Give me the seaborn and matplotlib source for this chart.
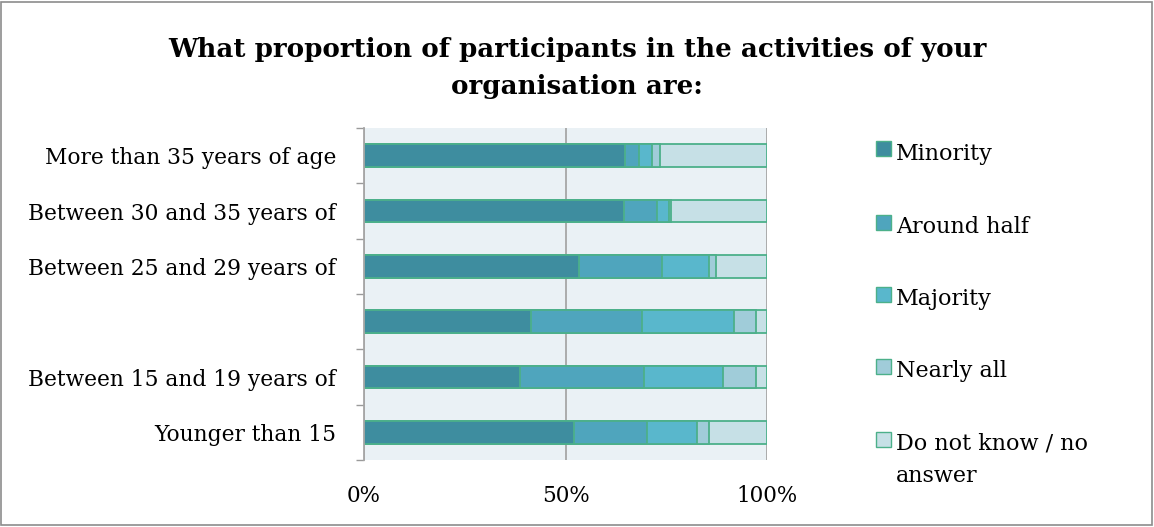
import matplotlib
matplotlib.use("Agg")
import matplotlib.pyplot as plt
from matplotlib.patches import Rectangle
import numpy as np
import pandas as pd
import seaborn as sns

# Age groups, top to bottom (the fourth group carries no label on the axis)
groups = ["More than 35 years of age", "Between 30 and 35 years of",
          "Between 25 and 29 years of", "Between 20 and 24 years of",
          "Between 15 and 19 years of", "Younger than 15"]
tick_labels = ["More than 35 years of age", "Between 30 and 35 years of",
               "Between 25 and 29 years of", "",
               "Between 15 and 19 years of", "Younger than 15"]

# Share of respondents per answer (percent)
minority = [64.8, 64.4, 53.3, 41.4, 38.8, 52.0]
around_half = [3.4, 8.2, 20.7, 27.6, 30.8, 18.2]
majority = [3.2, 3.0, 11.5, 22.7, 19.4, 12.4]
nearly_all = [2.0, 0.7, 1.9, 5.5, 8.3, 2.9]
no_answer = [26.6, 23.7, 12.6, 2.8, 2.7, 14.5]

series = ["Minority", "Around half", "Majority", "Nearly all", "Do not know / no\nanswer"]
colors = ["#3e8d9f", "#4fa5bd", "#59b7cc", "#a0ccd9", "#c6e0e6"]
edge = "#4cb08a"

df = pd.DataFrame({"group": groups, "Minority": minority, "Around half": around_half,
                   "Majority": majority, "Nearly all": nearly_all,
                   "No answer": no_answer})
cols = ["Minority", "Around half", "Majority", "Nearly all", "No answer"]
totals = df[cols].sum(axis=1)
for c in cols:
    df[c] = df[c] / totals * 100
cum = df[cols].cumsum(axis=1)

sns.set_theme(style="white")
plt.rcParams["font.family"] = ["DejaVu Serif"]
plt.rcParams["text.color"] = "black"
plt.rcParams["xtick.color"] = "black"
plt.rcParams["ytick.color"] = "black"

W, H = 1154, 527
fig = plt.figure(figsize=(W / 100, H / 100), dpi=100)
ax = fig.add_axes([364 / W, 1 - 460 / H, 403 / W, 332 / H])
ax.set_facecolor("#eaf1f5")

# Stacked bars: draw cumulative totals from the widest down
for i in range(len(cols) - 1, -1, -1):
    plot_df = pd.DataFrame({"group": groups, "value": cum[cols[i]].values})
    sns.barplot(data=plot_df, x="value", y="group", order=groups, orient="h",
                color=colors[i], edgecolor=edge, linewidth=1.3, width=0.41,
                saturation=1, ax=ax)

ax.set_xlim(0, 100)
ax.set_ylim(5.5, -0.5)
ax.set_xticks([0, 50, 100])
ax.set_xticklabels(["0%", "50%", "100%"], fontsize=15.5)
ax.set_yticks(range(len(groups)))
ax.set_yticklabels(tick_labels, fontsize=15.7)
ax.set_xlabel("")
ax.set_ylabel("")
ax.tick_params(axis="y", which="major", left=False, length=0, pad=20)
ax.tick_params(axis="x", length=0, pad=18)
ax.set_yticks(np.arange(-0.5, len(groups), 1.0), minor=True)
ax.tick_params(axis="y", which="minor", left=True, length=6, width=1,
               color="#9a9a9a", direction="out")
ax.grid(axis="x", color="#a6a6a6", linewidth=1.3, zorder=0)
ax.set_axisbelow(True)
for s in ["top", "right", "bottom"]:
    ax.spines[s].set_visible(False)
ax.spines["left"].set_color("#a6a6a6")
ax.spines["left"].set_linewidth(1.3)

fig.suptitle("What proportion of participants in the activities of your\norganisation are:",
             x=0.5, y=0.93, fontsize=18.8, fontweight="bold", linespacing=1.6)

# Legend: square swatches with labels stacked down the right side
sq = 15
key_centres = [149, 222, 294.5, 366.5, 439]
for lab, col, yc in zip(series, colors, key_centres):
    fig.patches.append(Rectangle((876 / W, 1 - (yc + sq / 2) / H), sq / W, sq / H,
                                 transform=fig.transFigure, facecolor=col,
                                 edgecolor=edge, linewidth=1.0))
    # first line sits beside the swatch; extra lines run below it
    extra = lab.count("\n")
    fig.text(896 / W, 1 - (yc + 11 + 32 * extra) / H, lab, fontsize=16,
             va="baseline", ha="left", linespacing=1.6)

fig.patches.append(Rectangle((0.001, 0.004), 0.997, 0.992, transform=fig.transFigure,
                             fill=False, edgecolor="#8c8c8c", linewidth=1.2))

fig.savefig("out.png", dpi=100)
